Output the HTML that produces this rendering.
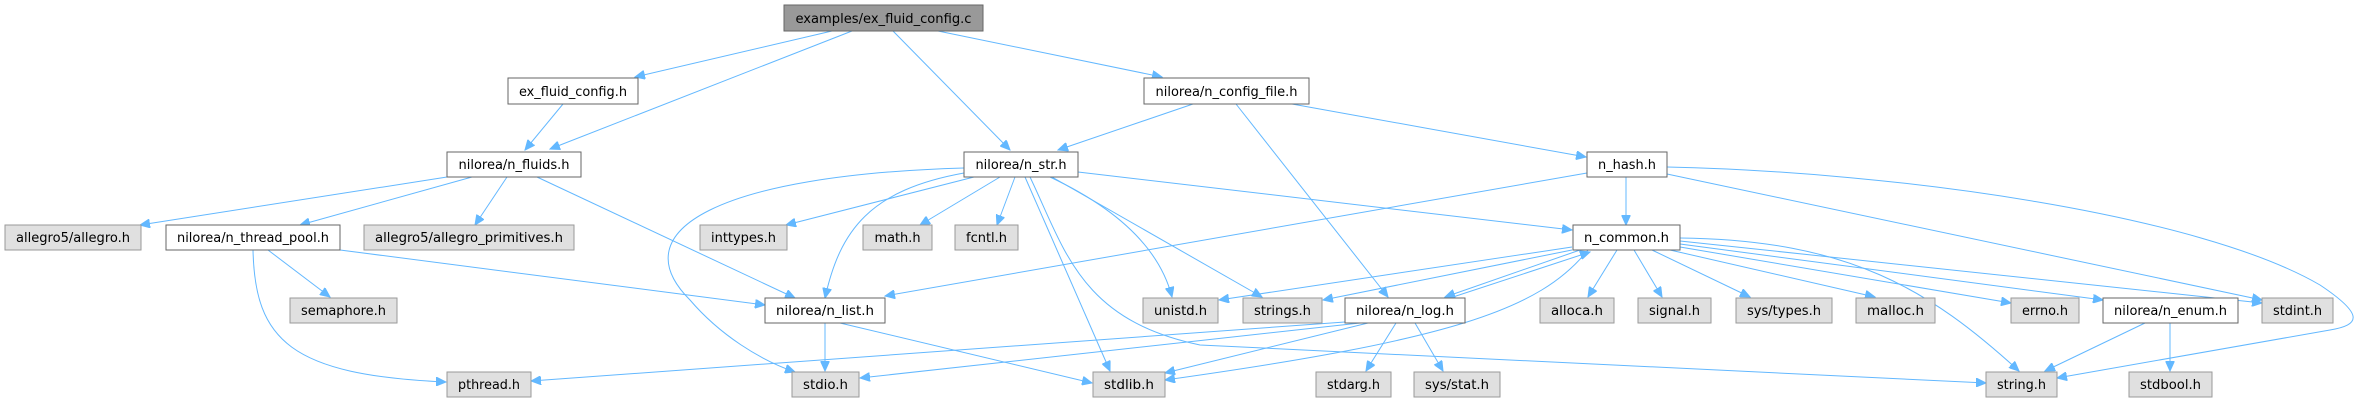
<!DOCTYPE html>
<html><head><meta charset="utf-8"><style>
html,body{margin:0;padding:0;background:#fff;}
svg{display:block;}
text{font-family:"DejaVu Sans Condensed","DejaVu Sans","Liberation Sans",sans-serif;font-size:13px;fill:#000;}
.w{fill:#fff;stroke:#666;stroke-width:1;}
.g{fill:#e0e0e0;stroke:#999;stroke-width:1;}
.r{fill:#999;stroke:#666;stroke-width:1;}
path{fill:none;stroke:#63b8ff;stroke-width:1;}
</style></head><body>
<svg width="2356" height="403" viewBox="0 0 2356 403" xmlns="http://www.w3.org/2000/svg">
<defs><marker id="a" markerUnits="userSpaceOnUse" markerWidth="11" markerHeight="9" refX="10" refY="4.5" orient="auto"><polygon points="0,0 10,4.5 0,9" fill="#63b8ff" stroke="#63b8ff"/></marker></defs>
<g marker-end="url(#a)">
<path d="M832,31 L635,77"/>
<path d="M852,31 L550,149"/>
<path d="M893,31 L1010,150"/>
<path d="M938,31 L1162,77"/>
<path d="M563,104 L525,150"/>
<path d="M1193,104 L1058,150"/>
<path d="M1236,104 L1388,297"/>
<path d="M1292,104 L1586,157"/>
<path d="M447,177 L140,225"/>
<path d="M472,177 L300,225"/>
<path d="M507,177 L475,225"/>
<path d="M537,177 L795,298"/>
<path d="M268,250 L330,297"/>
<path d="M253,250 C255,340 290,375 446,382"/>
<path d="M340,250 L765,305"/>
<path d="M974,177 L786,225"/>
<path d="M1000,177 L920,225"/>
<path d="M1015,177 L997,225"/>
<path d="M964,173 C870,190 840,230 825,298"/>
<path d="M964,168 C720,175 620,230 690,300 C720,335 760,360 795,372"/>
<path d="M1025,177 L1110,371"/>
<path d="M1030,177 C1065,250 1080,320 1200,345 L1986,383"/>
<path d="M1050,177 C1120,210 1160,250 1172,297"/>
<path d="M1052,177 L1262,297"/>
<path d="M1078,172 L1572,230"/>
<path d="M1587,173 L885,296"/>
<path d="M1626,177 L1626,225"/>
<path d="M1667,174 L2262,300"/>
<path d="M1667,167 C1900,172 2200,215 2320,285 C2365,315 2360,325 2330,330 L2057,378"/>
<path d="M1572,247 L1219,300"/>
<path d="M1572,250 L1323,300"/>
<path d="M1580,250 L1445,297"/>
<path d="M1450,298 L1590,252"/>
<path d="M1588,250 C1540,310 1450,340 1165,380"/>
<path d="M1617,250 L1588,297"/>
<path d="M1634,250 L1662,297"/>
<path d="M1652,250 L1750,297"/>
<path d="M1670,250 L1875,297"/>
<path d="M1680,247 L2011,303"/>
<path d="M1680,244 L2103,300"/>
<path d="M1680,241 L2262,303"/>
<path d="M1680,238 C1850,240 1930,290 2019,371"/>
<path d="M825,323 L825,371"/>
<path d="M840,323 L1092,383"/>
<path d="M1345,322 L531,381"/>
<path d="M1360,323 L860,378"/>
<path d="M1368,323 L1165,373"/>
<path d="M1396,323 L1366,371"/>
<path d="M1415,323 L1443,371"/>
<path d="M2145,323 L2045,371"/>
<path d="M2170,323 L2170,371"/>
</g>
<g lengthAdjust="spacingAndGlyphs">
<rect class="r" x="784" y="5" width="199" height="26"/><text x="883.5" y="23" text-anchor="middle" textLength="176" lengthAdjust="spacingAndGlyphs">examples/ex_fluid_config.c</text>
<rect class="w" x="508" y="78" width="130" height="26"/><text x="573" y="96" text-anchor="middle" textLength="108" lengthAdjust="spacingAndGlyphs">ex_fluid_config.h</text>
<rect class="w" x="1144" y="78" width="165" height="26"/><text x="1226.5" y="96" text-anchor="middle" textLength="142" lengthAdjust="spacingAndGlyphs">nilorea/n_config_file.h</text>
<rect class="w" x="447" y="152" width="134" height="25"/><text x="514" y="169" text-anchor="middle" textLength="111" lengthAdjust="spacingAndGlyphs">nilorea/n_fluids.h</text>
<rect class="w" x="964" y="152" width="114" height="25"/><text x="1021" y="169" text-anchor="middle" textLength="91" lengthAdjust="spacingAndGlyphs">nilorea/n_str.h</text>
<rect class="w" x="1587" y="152" width="80" height="25"/><text x="1627" y="169" text-anchor="middle" textLength="58" lengthAdjust="spacingAndGlyphs">n_hash.h</text>
<rect class="g" x="5" y="225" width="136" height="25"/><text x="73" y="242" text-anchor="middle" textLength="114" lengthAdjust="spacingAndGlyphs">allegro5/allegro.h</text>
<rect class="w" x="166" y="225" width="174" height="25"/><text x="253" y="242" text-anchor="middle" textLength="152" lengthAdjust="spacingAndGlyphs">nilorea/n_thread_pool.h</text>
<rect class="g" x="364" y="225" width="210" height="25"/><text x="469" y="242" text-anchor="middle" textLength="188" lengthAdjust="spacingAndGlyphs">allegro5/allegro_primitives.h</text>
<rect class="g" x="700" y="225" width="87" height="25"/><text x="743.5" y="242" text-anchor="middle" textLength="65" lengthAdjust="spacingAndGlyphs">inttypes.h</text>
<rect class="g" x="863" y="225" width="69" height="25"/><text x="897.5" y="242" text-anchor="middle" textLength="46" lengthAdjust="spacingAndGlyphs">math.h</text>
<rect class="g" x="955" y="225" width="63" height="25"/><text x="986.5" y="242" text-anchor="middle" textLength="41" lengthAdjust="spacingAndGlyphs">fcntl.h</text>
<rect class="w" x="1573" y="225" width="107" height="25"/><text x="1626.5" y="242" text-anchor="middle" textLength="85" lengthAdjust="spacingAndGlyphs">n_common.h</text>
<rect class="g" x="290" y="298" width="107" height="25"/><text x="343.5" y="315" text-anchor="middle" textLength="85" lengthAdjust="spacingAndGlyphs">semaphore.h</text>
<rect class="w" x="765" y="298" width="120" height="25"/><text x="825" y="315" text-anchor="middle" textLength="98" lengthAdjust="spacingAndGlyphs">nilorea/n_list.h</text>
<rect class="g" x="1143" y="298" width="75" height="25"/><text x="1180.5" y="315" text-anchor="middle" textLength="53" lengthAdjust="spacingAndGlyphs">unistd.h</text>
<rect class="g" x="1243" y="298" width="79" height="25"/><text x="1282.5" y="315" text-anchor="middle" textLength="57" lengthAdjust="spacingAndGlyphs">strings.h</text>
<rect class="w" x="1345" y="298" width="120" height="25"/><text x="1405" y="315" text-anchor="middle" textLength="98" lengthAdjust="spacingAndGlyphs">nilorea/n_log.h</text>
<rect class="g" x="1540" y="298" width="74" height="25"/><text x="1577" y="315" text-anchor="middle" textLength="52" lengthAdjust="spacingAndGlyphs">alloca.h</text>
<rect class="g" x="1638" y="298" width="73" height="25"/><text x="1674.5" y="315" text-anchor="middle" textLength="51" lengthAdjust="spacingAndGlyphs">signal.h</text>
<rect class="g" x="1736" y="298" width="96" height="25"/><text x="1784" y="315" text-anchor="middle" textLength="74" lengthAdjust="spacingAndGlyphs">sys/types.h</text>
<rect class="g" x="1856" y="298" width="79" height="25"/><text x="1895.5" y="315" text-anchor="middle" textLength="57" lengthAdjust="spacingAndGlyphs">malloc.h</text>
<rect class="g" x="2011" y="298" width="68" height="25"/><text x="2045" y="315" text-anchor="middle" textLength="46" lengthAdjust="spacingAndGlyphs">errno.h</text>
<rect class="w" x="2103" y="298" width="135" height="25"/><text x="2170.5" y="315" text-anchor="middle" textLength="113" lengthAdjust="spacingAndGlyphs">nilorea/n_enum.h</text>
<rect class="g" x="2262" y="298" width="71" height="25"/><text x="2297.5" y="315" text-anchor="middle" textLength="49" lengthAdjust="spacingAndGlyphs">stdint.h</text>
<rect class="g" x="447" y="372" width="84" height="25"/><text x="489" y="389" text-anchor="middle" textLength="62" lengthAdjust="spacingAndGlyphs">pthread.h</text>
<rect class="g" x="792" y="372" width="67" height="25"/><text x="825.5" y="389" text-anchor="middle" textLength="45" lengthAdjust="spacingAndGlyphs">stdio.h</text>
<rect class="g" x="1093" y="372" width="72" height="25"/><text x="1129" y="389" text-anchor="middle" textLength="50" lengthAdjust="spacingAndGlyphs">stdlib.h</text>
<rect class="g" x="1316" y="372" width="75" height="25"/><text x="1353.5" y="389" text-anchor="middle" textLength="53" lengthAdjust="spacingAndGlyphs">stdarg.h</text>
<rect class="g" x="1414" y="372" width="86" height="25"/><text x="1457" y="389" text-anchor="middle" textLength="64" lengthAdjust="spacingAndGlyphs">sys/stat.h</text>
<rect class="g" x="1986" y="372" width="71" height="25"/><text x="2021.5" y="389" text-anchor="middle" textLength="49" lengthAdjust="spacingAndGlyphs">string.h</text>
<rect class="g" x="2129" y="372" width="83" height="25"/><text x="2170.5" y="389" text-anchor="middle" textLength="61" lengthAdjust="spacingAndGlyphs">stdbool.h</text>
</g>
</svg>
</body></html>
